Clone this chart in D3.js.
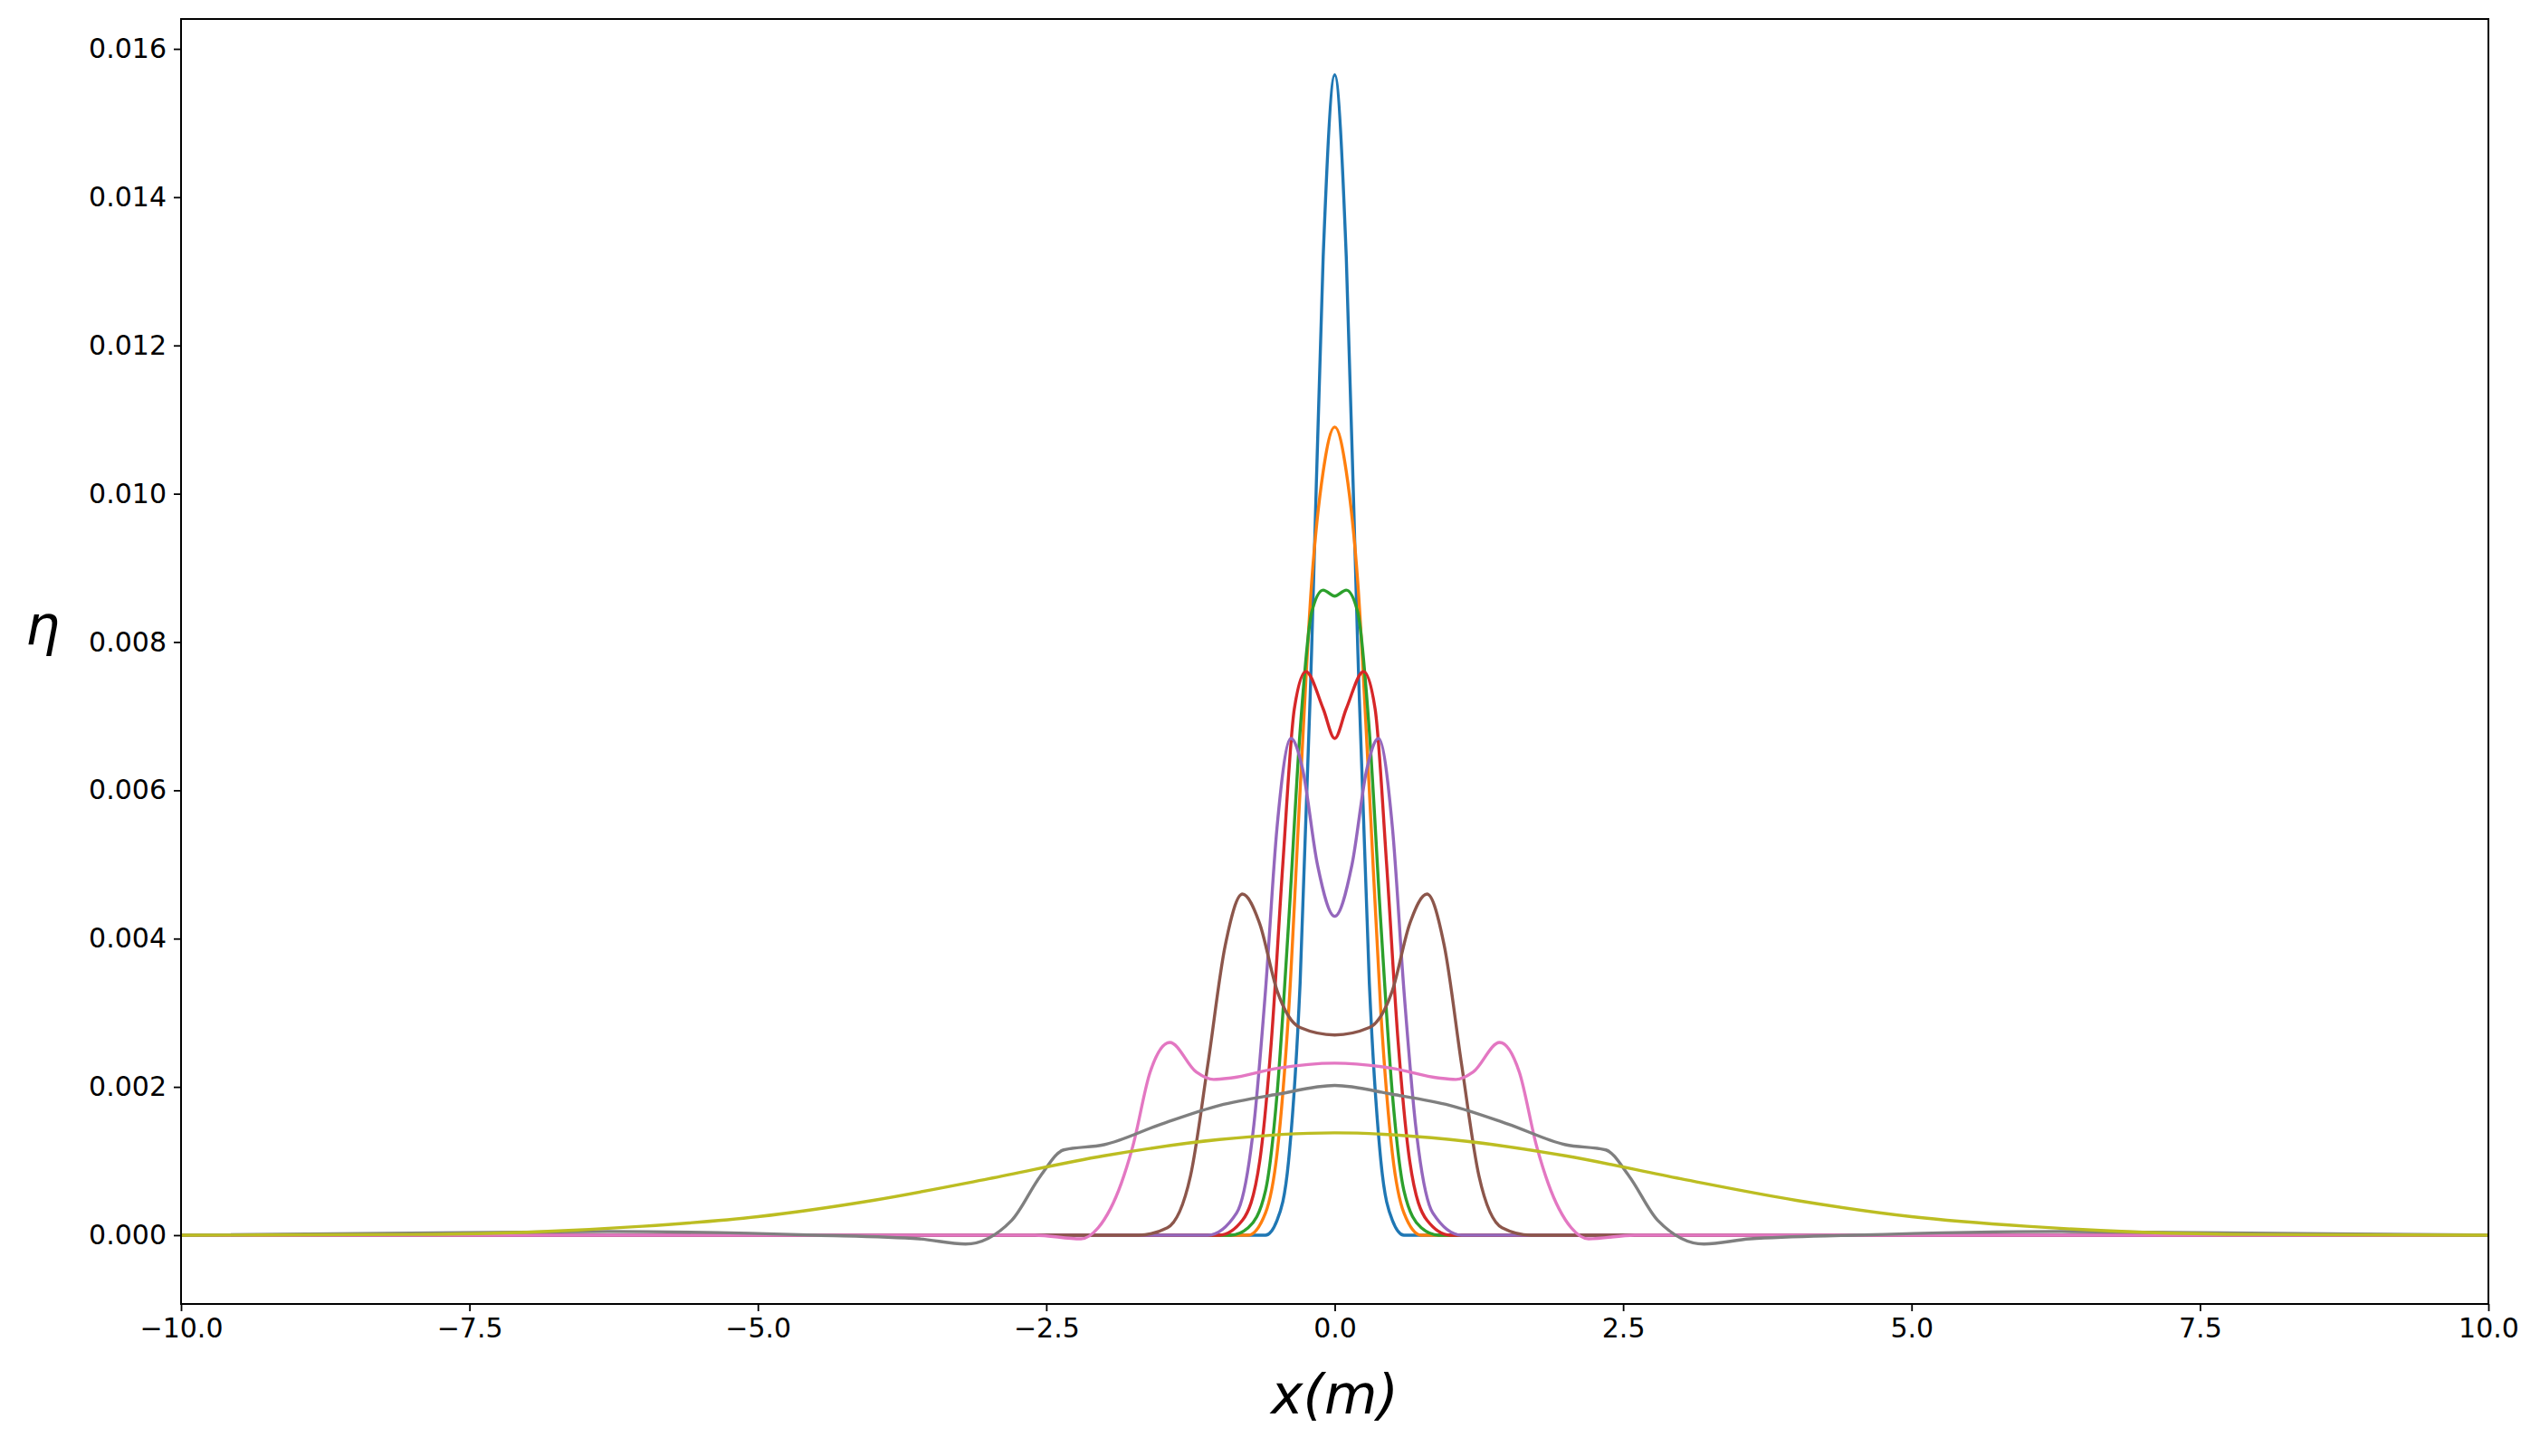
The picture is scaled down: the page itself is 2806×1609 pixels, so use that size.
<!DOCTYPE html>
<html>
<head>
<meta charset="utf-8">
<script src="https://cdn.jsdelivr.net/npm/d3@7"></script>
<style>
body { margin: 0; background: #fff; }
text { font-family: "DejaVu Sans", sans-serif; }
</style>
</head>
<body>
<script>
const W = 2806, H = 1609;
const M = { left: 200, right: 57, top: 21, bottom: 168 };

// series (x in m, eta)
const blueX = [-10, -0.6, -0.5, -0.4, -0.3, -0.2, -0.1, 0, 0.1, 0.2, 0.3, 0.4, 0.5, 0.6, 10];
const blueY = [0, 0, 0.0002, 0.0010, 0.0034, 0.0079, 0.0132, 0.01565, 0.0132, 0.0079, 0.0034, 0.0010, 0.0002, 0, 0];
const orangeX = [-10, -0.75, -0.6, -0.5, -0.4, -0.3, -0.2, -0.1, 0, 0.1, 0.2, 0.3, 0.4, 0.5, 0.6, 0.75, 10];
const orangeY = [0, 0, 0.0003, 0.0011, 0.0030, 0.0060, 0.0088, 0.0103, 0.0109, 0.0103, 0.0088, 0.0060, 0.0030, 0.0011, 0.0003, 0, 0];
const greenX = [-10, -0.9, -0.75, -0.6, -0.5, -0.4, -0.3, -0.2, -0.1, 0, 0.1, 0.2, 0.3, 0.4, 0.5, 0.6, 0.75, 0.9, 10];
const greenY = [0, 0, 0.0001, 0.0006, 0.0019, 0.0042, 0.0068, 0.0084, 0.0087, 0.00862, 0.0087, 0.0084, 0.0068, 0.0042, 0.0019, 0.0006, 0.0001, 0, 0];
const redX = [-10, -1.0, -0.8, -0.65, -0.55, -0.45, -0.35, -0.25, -0.1, 0, 0.1, 0.25, 0.35, 0.45, 0.55, 0.65, 0.8, 1.0, 10];
const redY = [0, 0, 0.0002, 0.0010, 0.0026, 0.0050, 0.0071, 0.0076, 0.0071, 0.0067, 0.0071, 0.0076, 0.0071, 0.0050, 0.0026, 0.0010, 0.0002, 0, 0];
const purpleX = [-10, -1.1, -0.85, -0.7, -0.6, -0.5, -0.38, -0.28, -0.15, 0, 0.15, 0.28, 0.38, 0.5, 0.6, 0.7, 0.85, 1.1, 10];
const purpleY = [0, 0, 0.0003, 0.0015, 0.0033, 0.0055, 0.0067, 0.0063, 0.0050, 0.0043, 0.0050, 0.0063, 0.0067, 0.0055, 0.0033, 0.0015, 0.0003, 0, 0];
const brownX = [-10, -1.7, -1.45, -1.25, -1.1, -0.95, -0.8, -0.65, -0.5, -0.3, 0, 0.3, 0.5, 0.65, 0.8, 0.95, 1.1, 1.25, 1.45, 1.7, 10];
const brownY = [0, 0, 0.0001, 0.0008, 0.0023, 0.0039, 0.0046, 0.0042, 0.0033, 0.0028, 0.0027, 0.0028, 0.0033, 0.0042, 0.0046, 0.0039, 0.0023, 0.0008, 0.0001, 0, 0];
const pinkX = [-10, -2.6, -2.2, -2.05, -1.85, -1.75, -1.6, -1.43, -1.2, -1.05, -0.9, -0.5, 0, 0.5, 0.9, 1.05, 1.2, 1.43, 1.6, 1.75, 1.85, 2.05, 2.2, 2.6, 10];
const pinkY = [0, 0, -0.00005, 0.0001, 0.0007, 0.0012, 0.0022, 0.0026, 0.0022, 0.0021, 0.00212, 0.00225, 0.00232, 0.00225, 0.00212, 0.0021, 0.0022, 0.0026, 0.0022, 0.0012, 0.0007, 0.0001, -0.00005, 0, 0];
const grayX = [-10, -6.3, -4.5, -3.6, -3.2, -2.8, -2.55, -2.35, -2.0, -1.5, -1.0, -0.5, 0, 0.5, 1.0, 1.5, 2.0, 2.35, 2.55, 2.8, 3.2, 3.6, 4.5, 6.3, 10];
const grayY = [0, 0.00005, 0, -0.00005, -0.00012, 0.0002, 0.0008, 0.00115, 0.00122, 0.0015, 0.00175, 0.0019, 0.00202, 0.0019, 0.00175, 0.0015, 0.00122, 0.00115, 0.0008, 0.0002, -0.00012, -0.00005, 0, 0.00005, 0];
const yellowX = [-10, -8, -7, -6, -5, -4, -3, -2, -1, 0, 1, 2, 3, 4, 5, 6, 7, 8, 10];
const yellowY = [0, 0.00001, 0.00004, 0.00012, 0.00025, 0.00047, 0.00076, 0.00107, 0.00129, 0.00138, 0.00129, 0.00107, 0.00076, 0.00047, 0.00025, 0.00012, 0.00004, 0.00001, 0];

const colors = ['#1f77b4', '#ff7f0e', '#2ca02c', '#d62728', '#9467bd', '#8c564b', '#e377c2', '#7f7f7f', '#bcbd22'];
const seriesX = [blueX, orangeX, greenX, redX, purpleX, brownX, pinkX, grayX, yellowX];
const seriesY = [blueY, orangeY, greenY, redY, purpleY, brownY, pinkY, grayY, yellowY];

const xTicks = [-10, -7.5, -5, -2.5, 0, 2.5, 5, 7.5, 10];
const yTicks = [0, 0.002, 0.004, 0.006, 0.008, 0.010, 0.012, 0.014, 0.016];

const svg = d3.select('body').append('svg').attr('width', W).attr('height', H);

const x = d3.scaleLinear().domain([-10, 10]).range([M.left, W - M.right]);
const y = d3.scaleLinear().domain([-0.000928, 0.016403]).range([H - M.bottom, M.top]);

svg.append('clipPath').attr('id', 'plot').append('rect')
    .attr('x', M.left).attr('y', M.top)
    .attr('width', W - M.left - M.right).attr('height', H - M.top - M.bottom);

const line = d3.line().x(d => x(d[0])).y(d => y(d[1])).curve(d3.curveMonotoneX);

const g = svg.append('g').attr('clip-path', 'url(#plot)');
seriesX.forEach((xs, i) => {
    g.append('path')
        .datum(xs.map((v, j) => [v, seriesY[i][j]]))
        .attr('fill', 'none')
        .attr('stroke', colors[i])
        .attr('stroke-width', 3.4)
        .attr('d', line);
});

// axes
const fmtMinus = s => s.replace('-', '\u2212');
svg.append('g').attr('transform', `translate(0,${H - M.bottom})`)
    .call(d3.axisBottom(x).tickValues(xTicks).tickSize(8).tickPadding(8)
        .tickFormat(d => fmtMinus(d3.format('.1f')(d))))
    .call(a => a.select('.domain').remove());
svg.append('g').attr('transform', `translate(${M.left},0)`)
    .call(d3.axisLeft(y).tickValues(yTicks).tickSize(8).tickPadding(8)
        .tickFormat(d3.format('.3f')))
    .call(a => a.select('.domain').remove());
svg.selectAll('.tick text').attr('font-size', 30).attr('fill', '#000')
    .style('font-family', '"DejaVu Sans", sans-serif');
svg.selectAll('.tick line').attr('stroke', '#000').attr('stroke-width', 1.8);

svg.append('rect')
    .attr('x', M.left).attr('y', M.top)
    .attr('width', W - M.left - M.right).attr('height', H - M.top - M.bottom)
    .attr('fill', 'none').attr('stroke', '#000').attr('stroke-width', 2);

svg.append('text')
    .attr('x', (M.left + W - M.right) / 2).attr('y', 1562)
    .attr('text-anchor', 'middle').attr('font-size', 60).attr('font-style', 'italic')
    .style('font-family', '"DejaVu Sans", sans-serif')
    .text('x(m)');
svg.append('text')
    .attr('x', 47).attr('y', 712)
    .attr('text-anchor', 'middle').attr('font-size', 60).attr('font-style', 'italic')
    .style('font-family', '"DejaVu Sans", sans-serif')
    .text('η');
</script>
</body>
</html>
